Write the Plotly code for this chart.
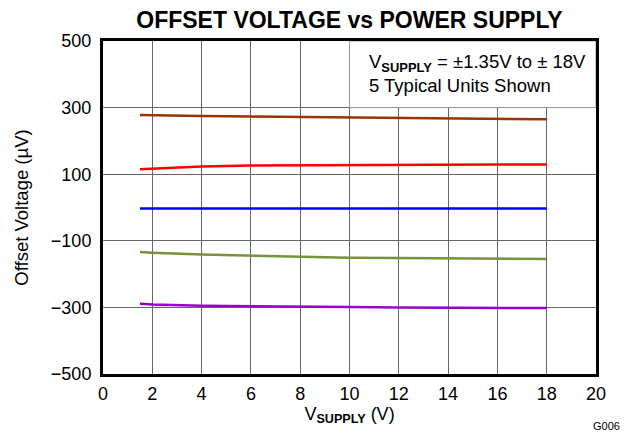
import plotly.graph_objects as go

# supply voltage (V)
vsupply = [1.5, 2, 4, 6, 8, 10, 12, 14, 16, 18]

# offset voltage (uV) of the 5 units
unit_1 = [278, 277, 275, 273, 272, 271, 269, 268, 267, 265]
unit_2 = [115, 117, 123, 126, 127, 128, 128, 129, 129, 129]
unit_3 = [-3, -3, -4, -3, -3, -3, -2, -3, -3, -3]
unit_4 = [-134, -136, -141, -145, -148, -151, -152, -153, -154, -155]
unit_5 = [-289, -291, -295, -297, -298, -299, -300, -300, -301, -302]

units = [unit_1, unit_2, unit_3, unit_4, unit_5]
colors = ['#993300', '#FF0000', '#0000FF', '#76923C', '#9900CC']

y_ticks = [-500, -300, -100, 100, 300, 500]
x_ticks = list(range(0, 21, 2))

font = 'Liberation Sans, Arial, sans-serif'

fig = go.Figure()
for vals, col in zip(units, colors):
    fig.add_trace(go.Scatter(x=vsupply, y=vals, mode='lines',
                             line=dict(color=col, width=2.5), showlegend=False))

# note box
fig.add_shape(type='rect', xref='x', yref='y', x0=10, x1=20, y0=300, y1=500,
              fillcolor='white', line=dict(color='#999999', width=1), layer='between')
fig.add_annotation(xref='x', yref='y', x=10.73, y=402, xanchor='left', yanchor='middle',
                   align='left', showarrow=False,
                   text='V<sub><b>SUPPLY</b></sub> = ±1.35V to ± 18V<br>5 Typical Units Shown',
                   font=dict(size=18.5, color='black', family=font))
fig.add_annotation(xref='paper', yref='paper', x=1.022, y=-0.156, xanchor='center', yanchor='middle',
                   showarrow=False, text='G006', font=dict(size=11, color='black', family=font))

fig.update_layout(
    width=621, height=426,
    margin=dict(l=93, r=32.5, t=33, b=60),
    paper_bgcolor='white', plot_bgcolor='white',
    font=dict(family=font, color='black'),
    title=dict(text='<b>OFFSET VOLTAGE vs POWER SUPPLY</b>', x=0.5, xref='paper',
               y=0.971, yref='container', xanchor='center', yanchor='middle',
               font=dict(size=23, color='black', family=font)),
)
fig.update_xaxes(range=[0, 20], tickvals=x_ticks, ticks='', showgrid=True,
                 gridcolor='#666666', gridwidth=1, zeroline=False,
                 showline=True, linecolor='black', linewidth=3, mirror=True,
                 tickfont=dict(size=18), ticklabelstandoff=1,
                 title=dict(text='V<sub><b>SUPPLY</b></sub> (V)', font=dict(size=18), standoff=3))
fig.update_yaxes(range=[-500, 500], tickvals=y_ticks, ticks='', showgrid=True,
                 gridcolor='#666666', gridwidth=1, zeroline=False,
                 showline=True, linecolor='black', linewidth=3, mirror=True,
                 tickfont=dict(size=18), ticklabelstandoff=5,
                 title=dict(text='Offset Voltage (µV)', font=dict(size=18.5), standoff=18))

fig.write_html("out.html")
